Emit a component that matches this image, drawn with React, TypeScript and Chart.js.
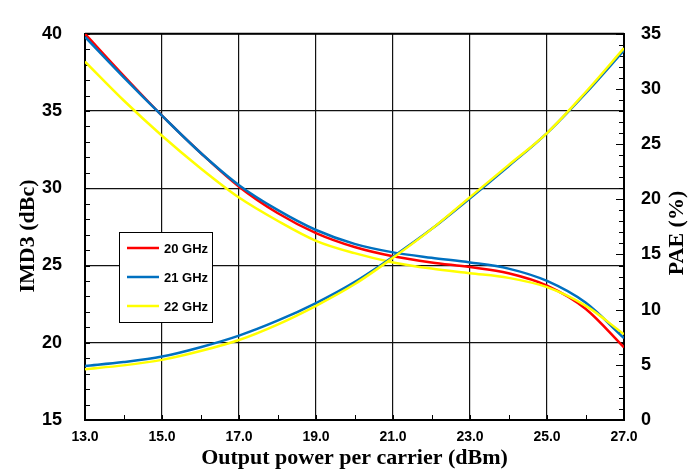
import React, { useEffect, useRef } from 'react';
import { Chart, registerables } from 'chart.js';

Chart.register(...registerables);

// Output power per carrier (dBm)
const power = [13, 14, 15, 16, 17, 18, 19, 20, 21, 22, 23, 24, 25, 26, 27];

// IMD3 (dBc)
const imd3_20GHz = [40.0, 37.3, 34.7, 32.3, 30.1, 28.4, 27.1, 26.2, 25.6, 25.2, 24.9, 24.5, 23.7, 22.2, 19.7];
const imd3_21GHz = [39.8, 37.2, 34.7, 32.3, 30.2, 28.6, 27.3, 26.4, 25.85, 25.5, 25.2, 24.8, 24.0, 22.6, 20.3];
const imd3_22GHz = [38.2, 35.7, 33.4, 31.3, 29.4, 27.9, 26.6, 25.8, 25.2, 24.8, 24.5, 24.2, 23.6, 22.4, 20.55];

// PAE (%)
const pae_21GHz = [4.9, 5.25, 5.75, 6.6, 7.65, 9.0, 10.6, 12.5, 14.8, 17.3, 20.1, 23.0, 26.0, 29.6, 33.5];
const pae_22GHz = [4.6, 4.95, 5.45, 6.25, 7.25, 8.65, 10.35, 12.3, 14.7, 17.3, 20.2, 23.1, 26.0, 29.7, 33.7];

const legendLabels = ['20 GHz', '21 GHz', '22 GHz'];
const xTitle = 'Output power per carrier (dBm)';
const yTitle = 'IMD3 (dBc)';
const y1Title = 'PAE (%)';

const RED = '#FF0000';
const BLUE = '#0070C0';
const YELLOW = '#FFFF00';
const legendColors = [RED, BLUE, YELLOW];

const toPts = (ys: number[]) => ys.map((y, i) => ({ x: power[i], y }));

const decorPlugin = {
  id: 'decor',
  beforeDatasetsDraw(chart: any) {
    const { ctx, chartArea, scales } = chart;
    const { left, right, top, bottom } = chartArea;
    ctx.save();
    ctx.strokeStyle = '#000';
    ctx.lineWidth = 1;
    ctx.beginPath();
    for (let v = 13; v <= 27; v += 1) {
      const px = Math.round(scales.x.getPixelForValue(v)) + 0.5;
      ctx.moveTo(px, bottom);
      ctx.lineTo(px, bottom - 5);
    }
    for (let v = 15; v <= 40; v += 1) {
      const py = Math.round(scales.y.getPixelForValue(v)) + 0.5;
      ctx.moveTo(left, py);
      ctx.lineTo(left + 5, py);
    }
    for (let v = 0; v <= 35; v += 1) {
      const py = Math.round(scales.y1.getPixelForValue(v)) + 0.5;
      ctx.moveTo(right, py);
      ctx.lineTo(right - (v % 5 === 0 ? 8 : 5), py);
    }
    ctx.stroke();
    ctx.lineWidth = 2;
    ctx.beginPath();
    ctx.moveTo(left, top);
    ctx.lineTo(right, top);
    ctx.stroke();
    ctx.restore();
  },
  afterDraw(chart: any) {
    const { ctx, chartArea } = chart;
    ctx.save();
    // legend box
    const bx = 119, by = 232, bw = 93, bh = 90;
    ctx.fillStyle = '#fff';
    ctx.fillRect(bx, by, bw, bh);
    ctx.strokeStyle = '#000';
    ctx.lineWidth = 1;
    ctx.strokeRect(bx + 0.5, by + 0.5, bw, bh);
    ctx.font = 'bold 13px "Liberation Sans", Arial, sans-serif';
    ctx.textBaseline = 'middle';
    ctx.textAlign = 'left';
    legendLabels.forEach((lab, i) => {
      const y = by + 16 + i * 29;
      ctx.strokeStyle = legendColors[i];
      ctx.lineWidth = 2.5;
      ctx.beginPath();
      ctx.moveTo(127, y);
      ctx.lineTo(159, y);
      ctx.stroke();
      ctx.fillStyle = '#000';
      ctx.fillText(lab, 164, y + 1);
    });
    // titles
    ctx.fillStyle = '#000';
    ctx.font = 'bold 22px "Liberation Serif", "Times New Roman", serif';
    ctx.textAlign = 'center';
    ctx.textBaseline = 'middle';
    ctx.fillText(xTitle, (chartArea.left + chartArea.right) / 2, 458);
    ctx.save();
    ctx.translate(28, 236);
    ctx.rotate(-Math.PI / 2);
    ctx.fillText(yTitle, 0, 0);
    ctx.restore();
    ctx.save();
    ctx.translate(677, 233);
    ctx.rotate(-Math.PI / 2);
    ctx.fillText(y1Title, 0, 0);
    ctx.restore();
    ctx.restore();
  },
};

export default function App() {
  const ref = useRef<HTMLCanvasElement | null>(null);
  useEffect(() => {
    if (!ref.current) return;
    const tickFont = { family: '"Liberation Sans", Arial, sans-serif', weight: 'bold' as const, size: 18 };
    const line = (data: number[], color: string, axis: string, order: number) => ({
      data: toPts(data),
      borderColor: color,
      backgroundColor: color,
      borderWidth: 2.5,
      pointRadius: 0,
      cubicInterpolationMode: 'monotone' as const,
      yAxisID: axis,
      fill: false,
      order,
    });
    const chart = new Chart(ref.current, {
      type: 'line',
      data: {
        datasets: [
          line(imd3_20GHz, RED, 'y', 6),
          line(imd3_21GHz, BLUE, 'y', 5),
          line(imd3_22GHz, YELLOW, 'y', 4),
          line(pae_21GHz, BLUE, 'y1', 3),
          line(pae_22GHz, YELLOW, 'y1', 2),
        ],
      },
      options: {
        animation: false,
        responsive: false,
        maintainAspectRatio: false,
        devicePixelRatio: 1,
        layout: { padding: { top: 22, left: 0, right: 0, bottom: 0 } },
        plugins: { legend: { display: false }, tooltip: { enabled: false } },
        elements: { point: { radius: 0 } },
        scales: {
          x: {
            type: 'linear',
            min: 13,
            max: 27,
            ticks: {
              stepSize: 2,
              autoSkip: false,
              maxRotation: 0,
              color: '#000',
              padding: 9,
              font: { ...tickFont, size: 14 },
              callback: (v: any) => Number(v).toFixed(1),
            },
            grid: { color: '#111', lineWidth: 1.2, drawTicks: false },
            border: { display: true, color: '#000', width: 2 },
            afterFit: (s: any) => { s.height = 54; },
          },
          y: {
            position: 'left',
            min: 15,
            max: 40,
            ticks: { stepSize: 5, color: '#000', padding: 23, font: tickFont },
            grid: { color: '#111', lineWidth: 1.2, drawTicks: false },
            border: { display: true, color: '#000', width: 2 },
            afterFit: (s: any) => { s.width = 85; },
          },
          y1: {
            position: 'right',
            min: 0,
            max: 35,
            ticks: { stepSize: 5, color: '#000', padding: 17, font: tickFont },
            grid: { drawOnChartArea: false, drawTicks: false },
            border: { display: true, color: '#000', width: 2 },
            afterFit: (s: any) => { s.width = 65; },
          },
        },
      } as any,
      plugins: [decorPlugin],
    });
    return () => chart.destroy();
  }, []);
  return (
    <div style={{ position: 'absolute', left: 0, top: 0, width: 689, height: 474, background: '#fff' }}>
      <canvas ref={ref} width={689} height={474} style={{ width: 689, height: 474, display: 'block' }} />
    </div>
  );
}
